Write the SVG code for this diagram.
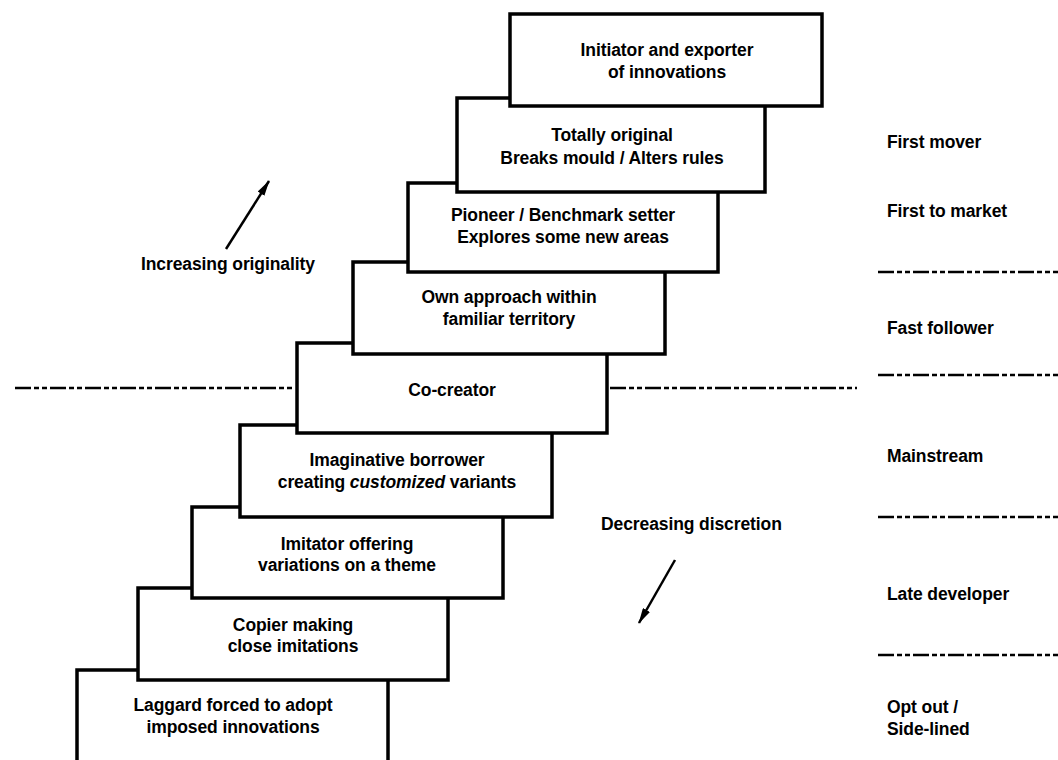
<svg xmlns="http://www.w3.org/2000/svg" width="1058" height="760" viewBox="0 0 1058 760">
<style>
  .box { fill: #fff; stroke: #000; stroke-width: 3.5; }
  .t { font-family: "Liberation Sans", Arial, sans-serif; font-weight: bold; font-size: 17.5px; fill: #000; letter-spacing: -0.1px; }
  .c { text-anchor: middle; }
  .dash { stroke: #000; stroke-width: 2.5; fill: none; stroke-dasharray: 16 3 5 3 5 3; }
  .arr { stroke: #000; stroke-width: 2.5; fill: none; }
</style>
<defs>
  <marker id="ah" viewBox="0 0 16 8" refX="15" refY="4" markerWidth="16" markerHeight="8" markerUnits="userSpaceOnUse" orient="auto">
    <path d="M0,0 L16,4 L0,8 Z" fill="#000"/>
  </marker>
</defs>
<rect width="1058" height="760" fill="#fff"/>

<g id="connectors">
  <line class="dash" x1="15" y1="388" x2="292" y2="388"/>
  <line class="dash" x1="610" y1="388" x2="857" y2="388"/>
  <line class="dash" x1="878" y1="272" x2="1058" y2="272"/>
  <line class="dash" x1="878" y1="375" x2="1058" y2="375"/>
  <line class="dash" x1="878" y1="517" x2="1058" y2="517"/>
  <line class="dash" x1="878" y1="655" x2="1058" y2="655"/>
  <line class="arr" x1="226" y1="249" x2="269" y2="181" marker-end="url(#ah)"/>
  <line class="arr" x1="675" y1="560" x2="639" y2="623" marker-end="url(#ah)"/>
</g>

<g id="n9"><rect class="box" x="77" y="670" width="311" height="100"/>
  <text class="t c" x="233" y="711">Laggard forced to adopt</text>
  <text class="t c" x="233" y="733">imposed innovations</text></g>
<g id="n8"><rect class="box" x="138" y="588" width="310" height="92"/>
  <text class="t c" x="293" y="631">Copier making</text>
  <text class="t c" x="293" y="652">close imitations</text></g>
<g id="n7"><rect class="box" x="192" y="507" width="311" height="91"/>
  <text class="t c" x="347" y="550">Imitator offering</text>
  <text class="t c" x="347" y="571">variations on a theme</text></g>
<g id="n6"><rect class="box" x="240" y="425" width="312" height="92"/>
  <text class="t c" x="397" y="466">Imaginative borrower</text>
  <text class="t c" x="397" y="488">creating <tspan font-style="italic">customized</tspan> variants</text></g>
<g id="n5"><rect class="box" x="297" y="343" width="310" height="90"/>
  <text class="t c" x="452" y="396">Co-creator</text></g>
<g id="n4"><rect class="box" x="353" y="262" width="312" height="92"/>
  <text class="t c" x="509" y="303">Own approach within</text>
  <text class="t c" x="509" y="325">familiar territory</text></g>
<g id="n3"><rect class="box" x="408" y="183" width="310" height="89"/>
  <text class="t c" x="563" y="221">Pioneer / Benchmark setter</text>
  <text class="t c" x="563" y="243">Explores some new areas</text></g>
<g id="n2"><rect class="box" x="457" y="98" width="308" height="94"/>
  <text class="t c" x="612" y="141">Totally original</text>
  <text class="t c" x="612" y="164">Breaks mould / Alters rules</text></g>
<g id="n1"><rect class="box" x="510" y="14" width="312" height="92"/>
  <text class="t c" x="667" y="56">Initiator and exporter</text>
  <text class="t c" x="667" y="78">of innovations</text></g>

<g id="labels">
  <text class="t" x="141" y="270">Increasing originality</text>
  <text class="t" x="601" y="530">Decreasing discretion</text>
  <text class="t" x="887" y="148">First mover</text>
  <text class="t" x="887" y="217">First to market</text>
  <text class="t" x="887" y="334">Fast follower</text>
  <text class="t" x="887" y="462">Mainstream</text>
  <text class="t" x="887" y="600">Late developer</text>
  <text class="t" x="887" y="713">Opt out /</text>
  <text class="t" x="887" y="735">Side-lined</text>
</g>
</svg>
